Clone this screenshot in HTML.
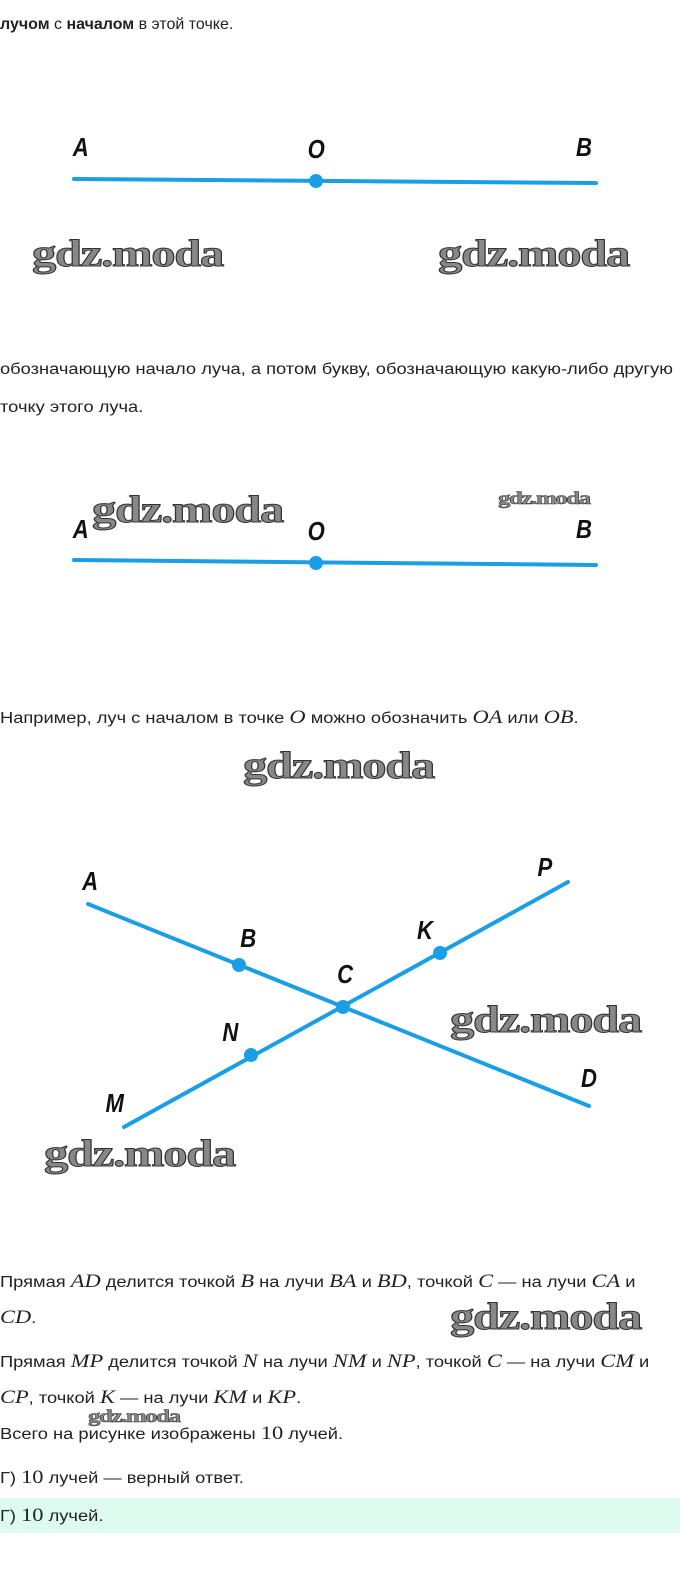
<!DOCTYPE html>
<html><head><meta charset="utf-8"><style>
html,body{margin:0;padding:0;background:#fff;}
body{width:680px;height:1574px;position:relative;overflow:hidden;font-family:"Liberation Sans",sans-serif;color:#222;}
.t{position:absolute;left:0;font-size:15.5px;white-space:nowrap;line-height:20px;transform:scaleX(1.18);transform-origin:0 0;}
.m{font-family:"Liberation Serif",serif;font-style:italic;font-size:19px;}
.wm{position:absolute;font-family:"Liberation Serif",serif;font-weight:bold;color:#888;-webkit-text-stroke:1px #333;letter-spacing:-1px;white-space:nowrap;transform:scaleX(1.28);transform-origin:0 0;}
.sw{transform:scaleX(1.38);}
svg{position:absolute;left:0;top:0;}
svg text{font-family:"Liberation Sans",sans-serif;font-style:italic;font-weight:bold;font-size:26px;fill:#111;text-anchor:middle;}
</style></head><body>
<svg width="680" height="1574">
<g stroke="#1a9fe6" stroke-width="4" stroke-linecap="round">
<line x1="74" y1="179" x2="596" y2="183"/>
<line x1="74" y1="560" x2="596" y2="565"/>
<line x1="88" y1="904" x2="589" y2="1106"/>
<line x1="124" y1="1127" x2="568" y2="882"/>
</g>
<g fill="#1a9fe6">
<circle cx="316" cy="181" r="7"/>
<circle cx="316" cy="563" r="7"/>
<circle cx="239" cy="965" r="7"/>
<circle cx="343" cy="1007" r="7"/>
<circle cx="440" cy="953" r="7"/>
<circle cx="251" cy="1055" r="7"/>
</g>
<g transform="scale(0.85,1)">
<text x="95" y="156">A</text><text x="372" y="158">O</text><text x="687" y="156">B</text>
<text x="95" y="538">A</text><text x="372" y="540">O</text><text x="687" y="538">B</text>
<text x="106" y="890">A</text><text x="641" y="876">P</text><text x="292" y="947">B</text>
<text x="500" y="939">K</text><text x="406" y="983">C</text><text x="271" y="1041">N</text>
<text x="693" y="1087">D</text><text x="135" y="1112">M</text>
</g>
</svg>
<div class="t" style="top:15px;transform:none;font-size:16px"><b>лучом</b> с <b>началом</b> в этой точке.</div>
<div class="wm" style="left:32px;top:232px;font-size:38px">gdz.moda</div>
<div class="wm" style="left:438px;top:232px;font-size:38px">gdz.moda</div>
<div class="t" style="top:360px">обозначающую начало луча, а потом букву, обозначающую какую-либо другую</div>
<div class="t" style="top:398px">точку этого луча.</div>
<div class="wm" style="left:92px;top:488px;font-size:38px">gdz.moda</div>
<div class="wm sw" style="left:498px;top:488px;font-size:18px;-webkit-text-stroke:0.5px #333">gdz.moda</div>
<div class="t" style="top:708px">Например, луч с началом в точке <span class="m">O</span> можно обозначить <span class="m">OA</span> или <span class="m">OB</span>.</div>
<div class="wm" style="left:243px;top:744px;font-size:38px">gdz.moda</div>
<div class="wm" style="left:450px;top:998px;font-size:38px">gdz.moda</div>
<div class="wm" style="left:44px;top:1132px;font-size:38px">gdz.moda</div>
<div class="t" style="top:1272px">Прямая <span class="m">AD</span> делится точкой <span class="m">B</span> на лучи <span class="m">BA</span> и <span class="m">BD</span>, точкой <span class="m">C</span> — на лучи <span class="m">CA</span> и</div>
<div class="t" style="top:1308px"><span class="m">CD</span>.</div>
<div class="wm" style="left:450px;top:1295px;font-size:38px">gdz.moda</div>
<div class="t" style="top:1352px">Прямая <span class="m">MP</span> делится точкой <span class="m">N</span> на лучи <span class="m">NM</span> и <span class="m">NP</span>, точкой <span class="m">C</span> — на лучи <span class="m">CM</span> и</div>
<div class="t" style="top:1388px"><span class="m">CP</span>, точкой <span class="m">K</span> — на лучи <span class="m">KM</span> и <span class="m">KP</span>.</div>
<div class="wm sw" style="left:88px;top:1406px;font-size:18px;-webkit-text-stroke:0.5px #333">gdz.moda</div>
<div class="t" style="top:1424px">Всего на рисунке изображены <span class="m" style="font-style:normal">10</span> лучей.</div>
<div class="t" style="top:1468px">Г) <span class="m" style="font-style:normal">10</span> лучей — верный ответ.</div>
<div style="position:absolute;left:0;top:1498px;width:680px;height:35px;background:#ddfcef"></div>
<div class="t" style="top:1506px">Г) <span class="m" style="font-style:normal">10</span> лучей.</div>
</body></html>
